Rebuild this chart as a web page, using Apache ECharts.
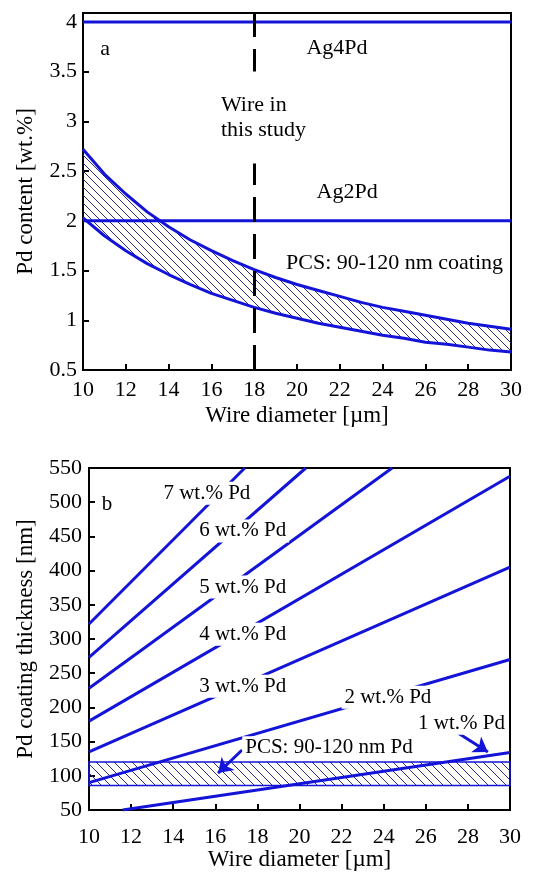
<!DOCTYPE html>
<html><head><meta charset="utf-8">
<script src="https://cdn.jsdelivr.net/npm/echarts@6/dist/echarts.min.js"></script>
<style>html,body{margin:0;padding:0;background:#fff}#c{width:537px;height:879px}</style>
</head><body><div id="c"></div>
<script>
// ---------- Panel a data ----------
const diameterA = [10,11,12,13,14,15,16,17,18,19,20,21,22,23,24,25,26,27,28,29,30];
const pdUpper   = [2.72,2.47,2.27,2.09,1.94,1.81,1.70,1.60,1.51,1.43,1.36,1.30,1.24,1.18,1.13,1.09,1.05,1.01,0.97,0.94,0.91];
const pdLower   = [2.03,1.85,1.70,1.57,1.46,1.36,1.27,1.20,1.13,1.07,1.02,0.97,0.93,0.89,0.85,0.82,0.78,0.76,0.73,0.70,0.68];
const ag4PdLine = [[10,4],[30,4]];
const ag2PdLine = [[10,2],[30,2]];
const studyDiameter = 18;
const xTicksA = [10,30,2];      // min, max, interval
const yTicksA = [0.5,4.09,0.5];

// ---------- Panel b data ----------
const pd1 = [[11.6,50],[30,134]];
const pd2 = [[10,90],[30,270]];
const pd3 = [[10,135],[30,405]];
const pd4 = [[10,180],[30,538]];
const pd5 = [[10,228],[24.4,550]];
const pd6 = [[10,273],[20.3,550]];
const pd7 = [[10,322],[17.4,550]];
const pcsBand = [86,120];
const yTicksB = [50,550,50];

// ---------- annotations ----------
const textsA = [
  {name:'a', value:[11.03,3.73]},
  {name:'Ag4Pd', value:[21.87,3.74]},
  {name:'Ag2Pd', value:[22.34,2.29]},
  {name:'PCS: 90-120 nm coating', value:[24.56,1.575]}
];
const studyText = {name:'Wire in\nthis study', value:[16.26,3.04]};
const textsB = [
  {name:'b', value:[10.86,496]},
  {name:'7 wt.% Pd', value:[15.6,513]},
  {name:'6 wt.% Pd', value:[17.3,458]},
  {name:'5 wt.% Pd', value:[17.3,376]},
  {name:'4 wt.% Pd', value:[17.3,307]},
  {name:'3 wt.% Pd', value:[17.3,231]},
  {name:'2 wt.% Pd', value:[24.2,215]},
  {name:'1 wt.% Pd', value:[27.7,177]},
  {name:'PCS: 90-120 nm Pd', value:[21.4,141]}
];
const arrow1 = [[27.53,162.6],[28.95,134.8]];
const arrow2 = [[17.27,137.7],[16.13,104]];

const BLUE = '#1414d8';
const FONT = "'Liberation Serif','Times New Roman',serif";

function hatch(p, color){
  const c = document.createElement('canvas');
  c.width = p; c.height = p;
  const g = c.getContext('2d');
  g.strokeStyle = color; g.lineWidth = 1;
  g.beginPath();
  g.moveTo(0,0); g.lineTo(p,p);
  g.moveTo(-2,p-2); g.lineTo(2,p+2);
  g.moveTo(p-2,-2); g.lineTo(p+2,2);
  g.stroke();
  return c;
}
const hatchA = hatch(8, '#2a2a88');
const hatchB = hatch(9, '#2a2a88');

const axisCommon = (idx) => ({
  gridIndex: idx, type:'value',
  axisLine:{show:true, onZero:false, lineStyle:{color:'#000', width:2}},
  axisTick:{show:true, inside:true, length:6, lineStyle:{color:'#000', width:2}},
  splitLine:{show:false},
  nameLocation:'middle',
  nameTextStyle:{color:'#000', fontSize:23, fontFamily:FONT}
});

const zip = (xs, ys) => xs.map((x,i)=>[x, ys[i]]);

const lineS = (data, xi, extra) => Object.assign({
  type:'line', xAxisIndex:xi, yAxisIndex:xi, data, showSymbol:false, symbol:'none',
  lineStyle:{color:BLUE, width:3}, itemStyle:{color:BLUE}, silent:true, clip:true, z:3
}, extra||{});

const textSeries = (xi, items, fontSize) => ({
  type:'scatter', xAxisIndex:xi, yAxisIndex:xi, symbolSize:0, silent:true, z:10,
  itemStyle:{opacity:1},
  data: items,
  label:{show:true, position:'inside', formatter:'{b}', color:'#000', opacity:1,
    fontSize, fontFamily:FONT, backgroundColor:'#fff', padding:[1,3]}
});

const chart = echarts.init(document.getElementById('c'), null, {renderer:'canvas'});
chart.setOption({
  animation:false,
  backgroundColor:'#fff',
  grid:[
    {left:83, width:428, top:13, height:357, show:true, borderColor:'#000', borderWidth:2, backgroundColor:'transparent'},
    {left:89, width:421, top:468, height:342, show:true, borderColor:'#000', borderWidth:2, backgroundColor:'transparent'}
  ],
  xAxis:[
    Object.assign(axisCommon(0), {min:xTicksA[0], max:xTicksA[1], interval:xTicksA[2],
      name:'Wire diameter [µm]', nameGap:34,
      axisLabel:{color:'#000', fontSize:22, fontFamily:FONT, margin:9}}),
    Object.assign(axisCommon(1), {min:10, max:30, interval:2,
      name:'Wire diameter [µm]', nameGap:37,
      axisLabel:{color:'#000', fontSize:22, fontFamily:FONT, margin:16}})
  ],
  yAxis:[
    Object.assign(axisCommon(0), {min:yTicksA[0], max:yTicksA[1], interval:yTicksA[2],
      name:'Pd content [wt.%]', nameGap:46,
      axisLabel:{color:'#000', fontSize:22, fontFamily:FONT, margin:6,
        formatter:(v)=> Math.abs(v*2 - Math.round(v*2))<1e-6 ? String(v) : ''}}),
    Object.assign(axisCommon(1), {min:yTicksB[0], max:yTicksB[1], interval:yTicksB[2],
      name:'Pd coating thickness [nm]', nameGap:52,
      axisLabel:{color:'#000', fontSize:22, fontFamily:FONT, margin:7}})
  ],
  series:[
    // panel a: hatched band between the two PCS curves
    {
      type:'custom', xAxisIndex:0, yAxisIndex:0, coordinateSystem:'cartesian2d',
      silent:true, z:1, data:[[diameterA[0], pdLower[0]]],
      renderItem:(params, api) => {
        const up = diameterA.map((x,i)=>api.coord([x, pdUpper[i]]));
        const lo = diameterA.map((x,i)=>api.coord([x, pdLower[i]]));
        return {type:'polygon', shape:{points: up.concat(lo.slice().reverse())},
          style:{fill:{image:hatchA, repeat:'repeat'}, stroke:null}};
      }
    },
    lineS(zip(diameterA, pdUpper), 0),
    lineS(zip(diameterA, pdLower), 0),
    lineS(ag4PdLine, 0, {
      markLine:{silent:true, symbol:['none','none'], label:{show:false},
        lineStyle:{color:'#000', width:3, type:[25,12]},
        data:[{xAxis:studyDiameter}]}
    }),
    lineS(ag2PdLine, 0),
    textSeries(0, textsA, 22),
    {
      type:'scatter', xAxisIndex:0, yAxisIndex:0, symbolSize:0, silent:true, z:10,
      itemStyle:{opacity:1},
      data:[studyText],
      label:{show:true, position:'inside', formatter:'{b}', color:'#000', align:'left', opacity:1,
        verticalAlign:'middle', fontSize:22, lineHeight:25, fontFamily:FONT,
        backgroundColor:'#fff', padding:[24,4,18,4]}
    },
    // panel b
    {type:'line', xAxisIndex:1, yAxisIndex:1, data:[], silent:true, z:1,
      markArea:{silent:true,
        itemStyle:{color:{image:hatchB, repeat:'repeat'}, borderColor:BLUE, borderWidth:1.5},
        data:[[{yAxis:pcsBand[0]},{yAxis:pcsBand[1]}]]}},
    lineS(pd1, 1),
    lineS(pd2, 1),
    lineS(pd3, 1),
    lineS(pd4, 1),
    lineS(pd5, 1),
    lineS(pd6, 1),
    lineS(pd7, 1),
    textSeries(1, textsB, 21),
    {type:'line', xAxisIndex:1, yAxisIndex:1, data:[], silent:true, z:12,
      markLine:{silent:true, symbol:['none','arrow'], symbolSize:14, label:{show:false},
        lineStyle:{color:BLUE, width:3, type:'solid'},
        data:[
          [{coord:arrow1[0]},{coord:arrow1[1]}],
          [{coord:arrow2[0]},{coord:arrow2[1]}]
        ]}}
  ]
});
</script>
</body></html>
